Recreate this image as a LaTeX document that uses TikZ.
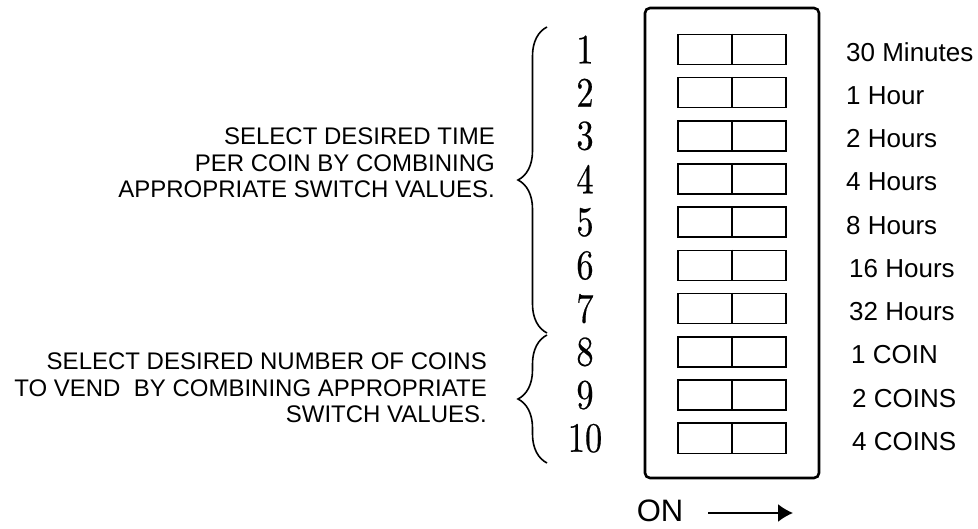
\documentclass[tikz,border=0pt]{standalone}
\usepackage{fontspec}
\newfontfamily\arialfont{Liberation Sans}
\newfontfamily\digitfont{lmroman10-regular.otf}[FakeBold=0.5]
\usetikzlibrary{decorations.pathreplacing,arrows.meta}
\tikzset{
    switchbox/.style={draw,line width=1.6pt,minimum width=108pt,minimum height=30pt,inner sep=0pt},
    swnumber/.style={font=\digitfont\fontsize{42}{42}\selectfont,xscale=0.82,transform shape,inner sep=0pt},
    swvalue/.style={font=\arialfont\fontsize{26}{26}\selectfont,anchor=west,inner sep=0pt},
    note/.style={font=\arialfont\fontsize{24}{26.5}\selectfont,align=right,anchor=east,inner sep=0pt},
    curly/.style={decorate,decoration={brace,amplitude=29pt},line width=1.6pt},
  }
\begin{document}
\begin{tikzpicture}[x=1pt,y=-1pt]
	\useasboundingbox (0,0) rectangle (978,529);
	%DIP SWITCH BOX
	\draw[line width=2.6pt,rounded corners=5pt] (645,8) rectangle (819,478);
	
	%SWITCHES, NUMBERS, VALUES
	\foreach \i/\val/\dx in {1/30 Minutes/0,2/1 Hour/0,3/2 Hours/0,4/4 Hours/0,5/8 Hours/0,
	                          6/16 Hours/3,7/32 Hours/3,8/1 COIN/5,9/2 COINS/6,10/4 COINS/6}{
		\pgfmathsetmacro{\yy}{49.5+43.2*(\i-1)}
		\node[switchbox] (s\i) at (732,\yy) {};
		\draw[line width=2.6pt] (s\i.north) -- (s\i.south);
		\node[swnumber] (n\i) at (585,\yy) {\i};
		\node[swvalue] (v\i) at (846+\dx,\yy+3) {\val};
	}
	
	%BRACES
	\coordinate (timetop) at (547,27);
	\coordinate (timebot) at (547,333);
	\coordinate (cointop) at (547,335);
	\coordinate (coinbot) at (547,463);
	\draw[curly] (timebot) -- (timetop);
	\draw[curly] (coinbot) -- (cointop);
	
	%NOTES
	\node[note] (timenote) at (495,163) {SELECT DESIRED TIME\\PER COIN BY COMBINING\\APPROPRIATE SWITCH VALUES.};
	\node[note] (coinnote) at (487,388) {SELECT DESIRED NUMBER OF COINS\\TO VEND\ \ BY COMBINING APPROPRIATE\\SWITCH VALUES.};
	
	%ON ARROW
	\node[font=\arialfont\fontsize{31}{31}\selectfont,inner sep=0pt] (on) at (660,511) {ON};
	\coordinate (ontip) at (793,513);
	\draw[-{Latex[length=15pt,width=18pt]},line width=1.6pt] ([xshift=25pt]on.east |- ontip) -- (ontip);
\end{tikzpicture}
\end{document}
